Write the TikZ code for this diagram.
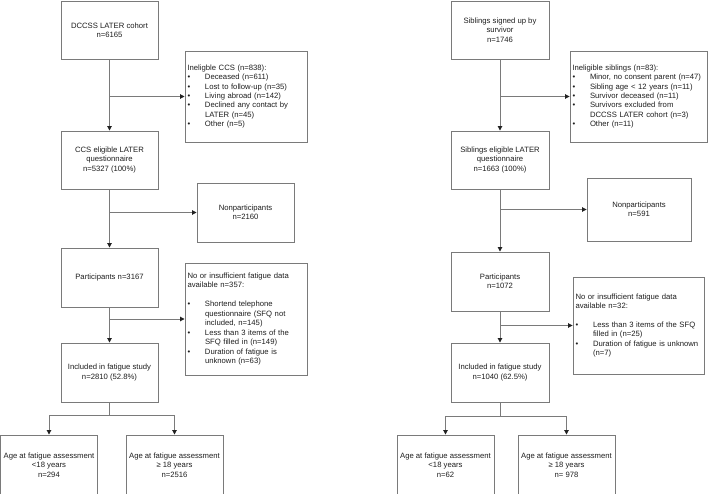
\documentclass[tikz,border=0pt]{standalone}
\usepackage{fontspec}
\setmainfont{Liberation Sans}
\usetikzlibrary{arrows.meta}
\definecolor{linegray}{HTML}{7A7A7A}
\definecolor{tipgray}{HTML}{222222}
\definecolor{txt}{HTML}{1E1E1E}
\newcommand{\bitem}{\makebox[17.5pt][l]{\textbullet}}
\newcommand{\bcont}{\hspace*{17.5pt}}
\begin{document}
\begin{tikzpicture}[x=1pt,y=-1pt,
  box/.style={draw=linegray, line width=0.9pt, text=txt, font=\fontsize{7.7}{9.45}\selectfont, align=center, inner sep=0pt},
  listbox/.style={box, align=left, inner xsep=2.5pt},
  arr/.style={draw=linegray, line width=0.9pt, -{Triangle[length=4.5pt,width=4.5pt,color=tipgray]}},
  ln/.style={draw=linegray, line width=0.9pt}]
\useasboundingbox (0,0) rectangle (709,494);

% ---------------- left column ----------------
\node[box, minimum width=97pt, minimum height=58pt] (a1) at (109.5,30) {DCCSS LATER cohort\\n=6165};
\node[listbox, text width=117pt, minimum width=122pt, minimum height=91pt] (inel) at (246,96.5)
 {Ineligble CCS (n=838):\\
  \bitem Deceased (n=611)\\
  \bitem Lost to follow-up (n=35)\\
  \bitem Living abroad (n=142)\\
  \bitem Declined any contact by\\
  \bcont LATER (n=45)\\
  \bitem Other (n=5)};
\node[box, minimum width=97pt, minimum height=58pt] (a2) at (109.5,160) {CCS eligible LATER\\questionnaire\\n=5327 (100\%)};
\node[box, minimum width=97pt, minimum height=59pt] (np) at (245.5,212.5) {Nonparticipants\\n=2160};
\node[box, minimum width=97pt, minimum height=59pt] (a3) at (109.5,277.5) {Participants n=3167};
\node[listbox, text width=117pt, minimum width=122pt, minimum height=112pt] (nf) at (246,319)
 {No or insufficient fatigue data\\
  available n=357:\\[9.45pt]
  \bitem Shortend telephone\\
  \bcont questionnaire (SFQ not\\
  \bcont included, n=145)\\
  \bitem Less than 3 items of the\\
  \bcont SFQ filled in (n=149)\\
  \bitem Duration of fatigue is\\
  \bcont unknown (n=63)};
\node[box, minimum width=97pt, minimum height=59pt] (a4) at (109.5,372.5) {Included in fatigue study\\n=2810 (52.8\%)};
\node[box, minimum width=97pt, minimum height=60pt] (a5) at (49,465) {Age at fatigue assessment\\<18 years\\n=294};
\node[box, minimum width=97pt, minimum height=60pt] (a6) at (174.5,465) {Age at fatigue assessment\\≥ 18 years\\n=2516};

\draw[arr] (a1) -- (a2);
\draw[arr] (a1.south |- inel.west) -- (inel.west);
\draw[arr] (a2) -- (a3);
\draw[arr] (a2.south |- np.west) -- (np.west);
\draw[arr] (a3) -- (a4);
\draw[arr] (a3.south |- nf.west) -- (nf.west);
\coordinate (ja) at (109.5,415.5);
\draw[ln] (a4.south) -- (ja);
\draw[arr] (ja) -| (a5.north);
\draw[arr] (ja) -| (a6.north);

% ---------------- right column ----------------
\node[box, minimum width=98pt, minimum height=58pt] (b1) at (500,30) {Siblings signed up by\\survivor\\n=1746};
\node[listbox, text width=132pt, minimum width=137pt, minimum height=91pt] (binel) at (638.5,96.5)
 {Ineligible siblings (n=83):\\
  \bitem Minor, no consent parent (n=47)\\
  \bitem Sibling age < 12 years (n=11)\\
  \bitem Survivor deceased (n=11)\\
  \bitem Survivors excluded from\\
  \bcont DCCSS LATER cohort (n=3)\\
  \bitem Other (n=11)};
\node[box, minimum width=98pt, minimum height=58pt] (b2) at (500,160) {Siblings eligible LATER\\questionnaire\\n=1663 (100\%)};
\node[box, minimum width=104pt, minimum height=63pt] (bnp) at (639,209.5) {Nonparticipants\\n=591};
\node[box, minimum width=98pt, minimum height=59pt] (b3) at (500,281.5) {Participants\\n=1072};
\node[listbox, text width=126pt, minimum width=131pt, minimum height=97pt] (bnf) at (638.5,325.5)
 {No or insufficient fatigue data\\
  available n=32:\\[9.45pt]
  \bitem Less than 3 items of the SFQ\\
  \bcont filled in (n=25)\\
  \bitem Duration of fatigue is unknown\\
  \bcont (n=7)};
\node[box, minimum width=98pt, minimum height=59pt] (b4) at (500,372.5) {Included in fatigue study\\n=1040 (62.5\%)};
\node[box, minimum width=97pt, minimum height=60pt] (b5) at (445.5,465) {Age at fatigue assessment\\<18 years\\n=62};
\node[box, minimum width=97pt, minimum height=60pt] (b6) at (566.5,465) {Age at fatigue assessment\\≥ 18 years\\n= 978};

\draw[arr] (b1) -- (b2);
\draw[arr] (b1.south |- binel.west) -- (binel.west);
\draw[arr] (b2) -- (b3);
\draw[arr] (b2.south |- bnp.west) -- (bnp.west);
\draw[arr] (b3) -- (b4);
\draw[arr] (b3.south |- bnf.west) -- (bnf.west);
\coordinate (jb) at (500,416);
\draw[ln] (b4.south) -- (jb);
\draw[arr] (jb) -| (b5.north);
\draw[arr] (jb) -| (b6.north);
\end{tikzpicture}
\end{document}
